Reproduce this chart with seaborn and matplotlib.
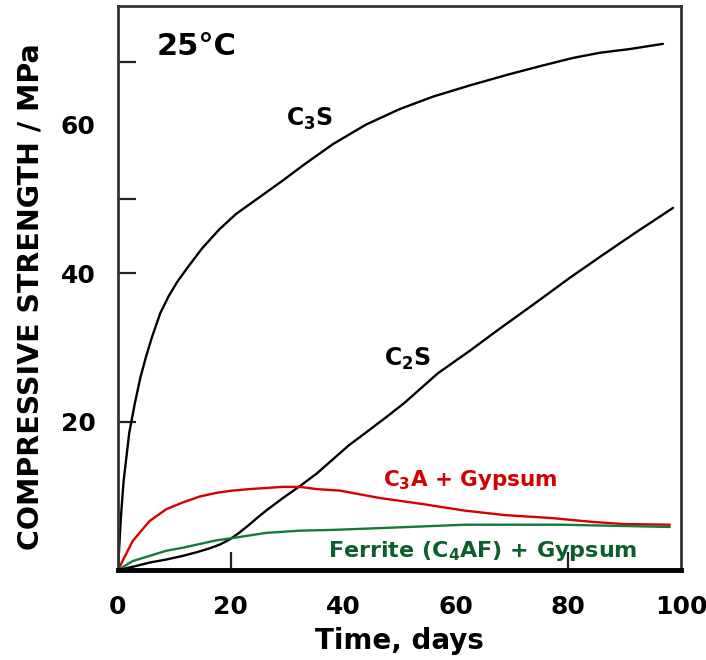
import numpy as np
import pandas as pd
import seaborn as sns
import matplotlib.pyplot as plt

# strength development of the cement phases at 25 C
c3s_days = [0, 0.5, 1, 2, 3, 4, 5, 6, 7.5, 9, 10.5, 12.3, 15, 18, 21, 24.7, 29.3, 33,
            38.2, 44, 50, 56, 62.5, 69, 75, 80.8, 85.6, 90.9, 96.8]
c3s_mpa = [0, 7, 12, 18.5, 22.5, 26, 28.8, 31.3, 34.6, 36.9, 38.8, 40.7, 43.4, 45.9,
           48, 50, 52.5, 54.6, 57.4, 60, 62.1, 63.8, 65.3, 66.7, 67.9, 69, 69.7, 70.2, 70.9]

c2s_days = [0, 3, 5.6, 8.5, 11.5, 14, 16.2, 18, 19.8, 21.5, 23.3, 25, 26.3, 29.3, 32.3,
            35.3, 38, 41, 44, 48, 51, 56.8, 62.6, 67.4, 74, 80.3, 86, 92, 98.6]
c2s_mpa = [0, 0.5, 1.0, 1.4, 1.9, 2.4, 2.9, 3.4, 4.1, 5.0, 6.1, 7.2, 8.0, 9.7, 11.3,
           13.0, 14.8, 16.8, 18.5, 20.8, 22.6, 26.5, 29.6, 32.3, 35.9, 39.4, 42.4, 45.5, 48.8]

c3a_days = [0, 2.6, 5.6, 8.6, 11.5, 14.5, 17.5, 20.3, 23.3, 29.3, 32.3, 35.3, 39.4, 46.5,
            54, 61.6, 68.7, 77, 84, 89.6, 98]
c3a_mpa = [0, 3.9, 6.6, 8.2, 9.1, 9.9, 10.4, 10.7, 10.9, 11.2, 11.2, 10.9, 10.7, 9.7,
           8.9, 8.0, 7.4, 7.0, 6.5, 6.2, 6.1]

c4af_days = [0, 2.6, 5.6, 8.6, 11.5, 14.5, 17.5, 20.3, 26.3, 32.3, 38, 45, 61.6, 79, 98]
c4af_mpa = [0, 1.2, 1.9, 2.6, 3.0, 3.5, 4.0, 4.3, 5.0, 5.3, 5.4, 5.6, 6.1, 6.1, 5.8]

x_ticks = [0, 20, 40, 60, 80, 100]
y_ticks = [20, 40, 50, 60, 68.5]
y_tick_labels = ["20", "40", "", "60", ""]

sns.set_theme(style="white")
plt.rcParams['font.family'] = ['DejaVu Sans']
plt.rcParams['font.weight'] = 'bold'
plt.rcParams['text.color'] = 'black'
plt.rcParams['axes.labelcolor'] = 'black'

fig = plt.figure(figsize=(7.06, 6.60), dpi=100)
ax = fig.add_axes([118 / 706, 90 / 660, (681 - 118) / 706, (654 - 90) / 660])

curves = [
    (c3s_days, c3s_mpa, "black"),
    (c2s_days, c2s_mpa, "black"),
    (c3a_days, c3a_mpa, "#d50000"),
    (c4af_days, c4af_mpa, "#137a3c"),
]
for days, mpa, color in curves:
    df = pd.DataFrame({"days": days, "mpa": mpa})
    sns.lineplot(data=df, x="days", y="mpa", color=color, linewidth=1.7, ax=ax)

ax.set_xlim(0, 100)
ax.set_ylim(0, 76)

ax.set_xticks(x_ticks)
ax.set_xticklabels([str(t) for t in x_ticks], fontsize=18, fontweight='bold')
ax.set_yticks(y_ticks)
ax.set_yticklabels(y_tick_labels, fontsize=18, fontweight='bold')
ax.tick_params(axis='both', bottom=True, left=True, direction='in', length=13,
               width=1.6, colors='#222222', labelcolor='black')
ax.tick_params(axis='x', pad=18)
ax.tick_params(axis='y', pad=16)

# only some positions carry a tick mark in the original
for i, t in enumerate(ax.xaxis.get_major_ticks()):
    if x_ticks[i] not in (20, 80):
        t.tick1line.set_visible(False)
ax.yaxis.get_major_ticks()[3].tick1line.set_visible(False)

for side in ['left', 'right', 'top']:
    ax.spines[side].set_linewidth(2)
    ax.spines[side].set_color('#333333')
ax.spines['bottom'].set_linewidth(3.5)
ax.spines['bottom'].set_color('black')

ax.set_xlabel("Time, days", fontsize=20, fontweight='bold', labelpad=6)
ax.set_ylabel("COMPRESSIVE STRENGTH / MPa", fontsize=20.5, fontweight='bold')
ax.yaxis.set_label_coords(-0.13, 0.485)

ax.text(14, 70.6, "25°C", fontsize=22, fontweight='bold', ha='center', va='center')
ax.text(34, 60.8, "C$_\\mathbf{3}$S", fontsize=17, fontweight='bold', ha='center', va='center')
ax.text(51.5, 28.5, "C$_\\mathbf{2}$S", fontsize=17, fontweight='bold', ha='center', va='center')
ax.text(62.5, 12.1, "C$_\\mathbf{3}$A + Gypsum", fontsize=15.5, fontweight='bold',
        color="#d50000", ha='center', va='center')
ax.text(64.7, 2.6, "Ferrite (C$_\\mathbf{4}$AF) + Gypsum", fontsize=16, fontweight='bold',
        color="#0c5e2c", ha='center', va='center')

fig.savefig("out.png", dpi=100)
